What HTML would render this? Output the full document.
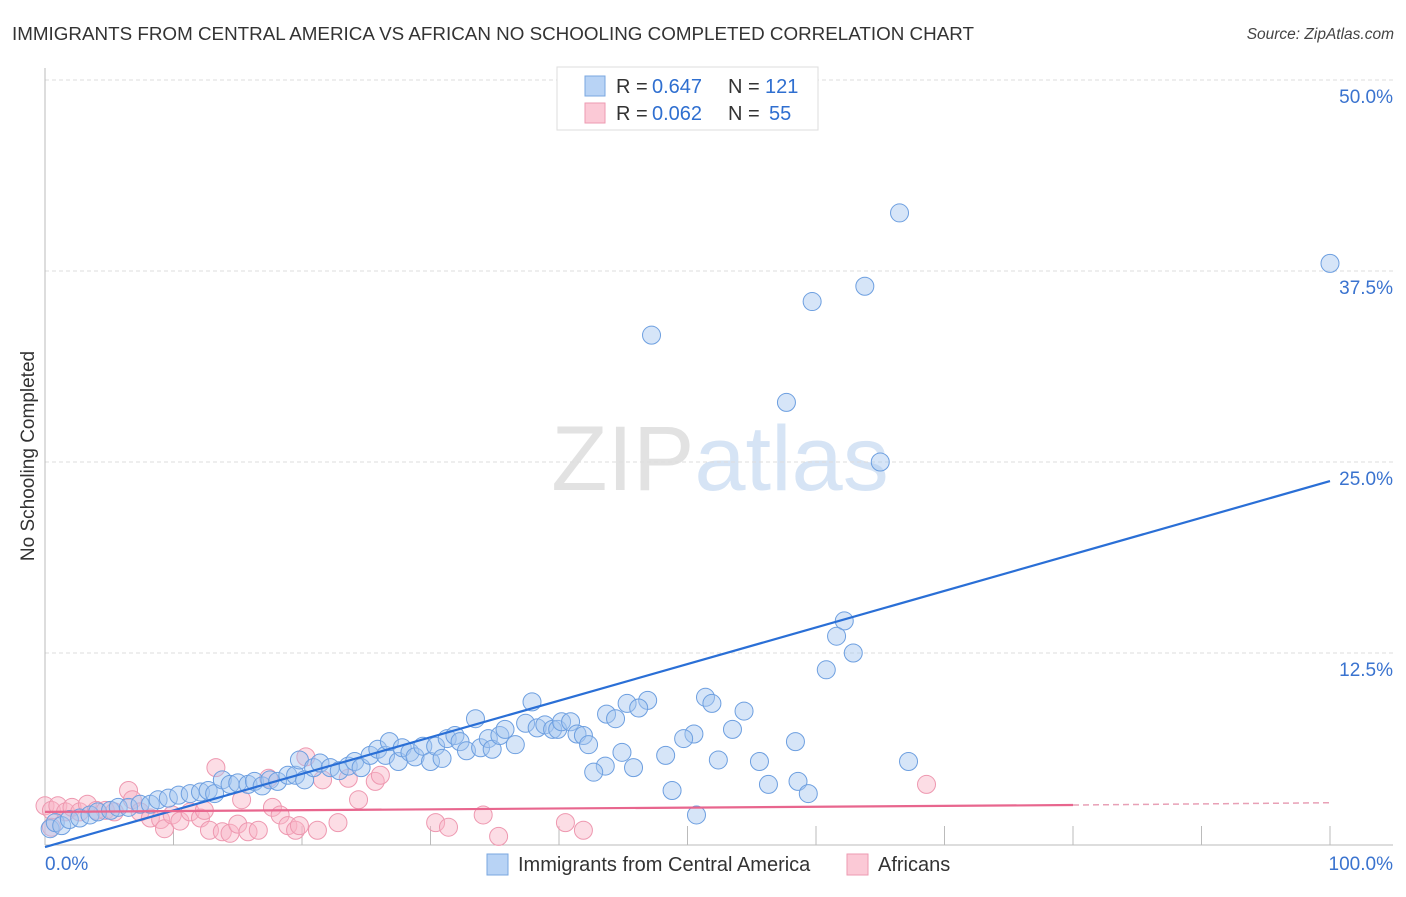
<!DOCTYPE html>
<html><head><meta charset="utf-8"><style>
body{margin:0;background:#fff;font-family:"Liberation Sans",sans-serif;}
svg text{font-family:"Liberation Sans",sans-serif;}
</style></head><body>
<svg id="chart" width="1406" height="892" xmlns="http://www.w3.org/2000/svg">
<text x="12" y="40" font-size="18" fill="#333" textLength="962" lengthAdjust="spacingAndGlyphs">IMMIGRANTS FROM CENTRAL AMERICA VS AFRICAN NO SCHOOLING COMPLETED CORRELATION CHART</text>
<text x="1394" y="39" font-size="15.5" fill="#444" text-anchor="end" font-style="italic">Source: ZipAtlas.com</text>
<text x="720" y="490" font-size="92" fill="#e6e6e6" text-anchor="middle" font-family="Liberation Serif"><tspan fill="#e2e2e2">ZIP</tspan><tspan fill="#d6e4f5" font-family="Liberation Sans">atlas</tspan></text>
<g id="grid"></g>
<g id="axes"></g>
<g id="pink"></g>
<g id="blue"></g>
<g id="lines"></g>
<text transform="translate(34,456) rotate(-90)" font-size="19" fill="#333" text-anchor="middle">No Schooling Completed</text>
<g>
<rect x="557" y="67" width="261" height="63" fill="#fff" stroke="#ddd"/>
<rect x="585" y="76" width="20" height="20" fill="#b8d3f5" stroke="#7aa7e0"/>
<rect x="585" y="103" width="20" height="20" fill="#fbc9d6" stroke="#ee9ab1"/>
<text x="616" y="93" font-size="20" fill="#333">R =</text>
<text x="652" y="93" font-size="20" fill="#2f6fd0">0.647</text>
<text x="728" y="93" font-size="20" fill="#333">N =</text>
<text x="765" y="93" font-size="20" fill="#2f6fd0">121</text>
<text x="616" y="120" font-size="20" fill="#333">R =</text>
<text x="652" y="120" font-size="20" fill="#2f6fd0">0.062</text>
<text x="728" y="120" font-size="20" fill="#333">N =</text>
<text x="769" y="120" font-size="20" fill="#2f6fd0">55</text>
</g>
<g>
<rect x="487" y="854" width="21" height="21" fill="#b8d3f5" stroke="#7aa7e0"/>
<text x="518" y="871" font-size="20" fill="#333">Immigrants from Central America</text>
<rect x="847" y="854" width="21" height="21" fill="#fbc9d6" stroke="#ee9ab1"/>
<text x="878" y="871" font-size="20" fill="#333">Africans</text>
</g>
</svg>
<script>
const blueX=[66.5,100,63.8,59.7,47.2,57.7,65.0,62.2,61.6,62.9,60.8,51.4,51.9,54.4,46.9,45.3,46.2,43.7,44.4,37.9,33.5,53.5,50.5,49.7,58.4,48.3,44.9,52.4,55.6,67.2,43.6,42.7,45.8,56.3,58.6,59.4,48.8,50.7,
0.4,0.8,1.3,1.9,2.7,3.5,4.1,5.1,5.7,6.5,7.4,8.2,8.8,9.6,10.4,11.3,12.1,12.7,13.2,13.8,14.4,15.0,15.8,16.3,16.9,17.5,18.1,18.9,19.5,19.8,20.2,20.9,21.4,22.2,22.9,23.6,24.1,24.6,25.3,25.9,26.5,26.8,27.5,27.8,28.4,28.8,29.4,30.0,30.4,30.9,31.3,31.9,32.3,32.8,33.9,34.5,34.8,35.4,35.8,36.6,37.4,38.3,38.9,39.5,39.9,40.2,40.9,41.4,41.9,42.3];
const blueY=[41.3,38.0,36.5,35.5,33.3,28.9,25.0,14.6,13.6,12.5,11.4,9.6,9.2,8.7,9.4,9.2,8.9,8.5,8.2,9.3,8.2,7.5,7.2,6.9,6.7,5.8,6.0,5.5,5.4,5.4,5.1,4.7,5.0,3.9,4.1,3.3,3.5,1.9,
1.0,1.4,1.2,1.6,1.7,1.9,2.1,2.2,2.4,2.4,2.6,2.6,2.9,3.0,3.2,3.3,3.4,3.5,3.3,4.2,3.9,4.0,3.9,4.1,3.8,4.2,4.1,4.5,4.5,5.5,4.2,5.0,5.3,5.0,4.8,5.1,5.4,5.0,5.8,6.2,5.8,6.7,5.4,6.3,6.0,5.7,6.4,5.4,6.4,5.6,6.9,7.1,6.7,6.1,6.3,6.9,6.2,7.1,7.5,6.5,7.9,7.6,7.8,7.5,7.5,8.0,8.0,7.2,7.1,6.5];
const pinkX=[0,0.5,1.0,1.6,2.1,2.7,3.3,4.0,4.7,5.4,6.5,6.8,7.4,8.2,9.0,9.3,9.9,10.5,11.3,12.1,12.4,12.8,13.3,13.8,14.4,15.0,15.3,15.8,16.6,17.4,17.7,18.3,18.9,19.5,19.8,20.3,21.2,21.6,22.8,23.6,24.4,25.7,26.1,30.4,31.4,34.1,35.3,40.5,41.9,68.6,0.5];
const pinkY=[2.5,2.2,2.5,2.1,2.4,2.1,2.6,2.2,2.2,2.1,3.5,2.9,2.1,1.7,1.6,1.0,1.9,1.5,2.1,1.7,2.2,0.9,5.0,0.8,0.7,1.3,2.9,0.8,0.9,4.3,2.4,1.9,1.2,0.9,1.2,5.7,0.9,4.2,1.4,4.3,2.9,4.1,4.5,1.4,1.1,1.9,0.5,1.4,0.9,3.9,1.1];
const yTicks=[12.5,25,37.5,50];
const yTickLabels=["12.5%","25.0%","37.5%","50.0%"];
const xTicks=[10,20,30,40,50,60,70,80,90,100];
const blueTrend=[-0.2,23.75];
const pinkTrend=[2.1,2.55,2.7];
const NS='http://www.w3.org/2000/svg';
const X=v=>45+v*12.85, Y=v=>844-v*15.28;
function mk(p,t,a){const e=document.createElementNS(NS,t);for(const k in a)e.setAttribute(k,a[k]);document.getElementById(p).appendChild(e);return e;}
yTicks.forEach((t,i)=>{
 const l=mk('grid','line',{x1:45,x2:1393,y1:Y(t),y2:Y(t),stroke:'#ddd','stroke-dasharray':'4,3'});
 
 
 const tx=mk('grid','text',{x:1393,y:Y(t)+23,'font-size':19,fill:'#3a73cf','text-anchor':'end'});
 tx.textContent=yTickLabels[i];
 
 
});
mk('axes','line',{x1:45,x2:45,y1:68,y2:845,stroke:'#bbb'});
mk('axes','line',{x1:45,x2:1393,y1:845,y2:845,stroke:'#bbb'});
xTicks.forEach(t=>{const l=mk('axes','line',{x1:X(t),x2:X(t),y1:826,y2:845,stroke:'#bbb'});
 
 });
let a=mk('axes','text',{x:45,y:870,'font-size':19,fill:'#3a73cf'});a.textContent='0.0%';


a=mk('axes','text',{x:1393,y:870,'font-size':19,fill:'#3a73cf','text-anchor':'end'});a.textContent='100.0%';


pinkX.forEach((x,i)=>{const c=mk('pink','circle',{cx:X(x),cy:Y(pinkY[i]),r:9,fill:'rgba(248,180,198,0.45)',stroke:'#ee98b0','stroke-width':1});
 
 });
blueX.forEach((x,i)=>{const c=mk('blue','circle',{cx:X(x),cy:Y(blueY[i]),r:9,fill:'rgba(165,198,240,0.45)',stroke:'#6d9fe0','stroke-width':1});
 
 });
let t=mk('lines','line',{x1:X(0),y1:Y(blueTrend[0]),x2:X(100),y2:Y(blueTrend[1]),stroke:'#2a6fd6','stroke-width':2.2});


t=mk('lines','line',{x1:X(0),y1:Y(pinkTrend[0]),x2:X(80),y2:Y(pinkTrend[1]),stroke:'#e8668e','stroke-width':2.2});


t=mk('lines','line',{x1:X(80),y1:Y(pinkTrend[1]),x2:X(100),y2:Y(pinkTrend[2]),stroke:'#e8a0b6','stroke-width':1.5,'stroke-dasharray':'6,4'});


</script>
</body></html>
